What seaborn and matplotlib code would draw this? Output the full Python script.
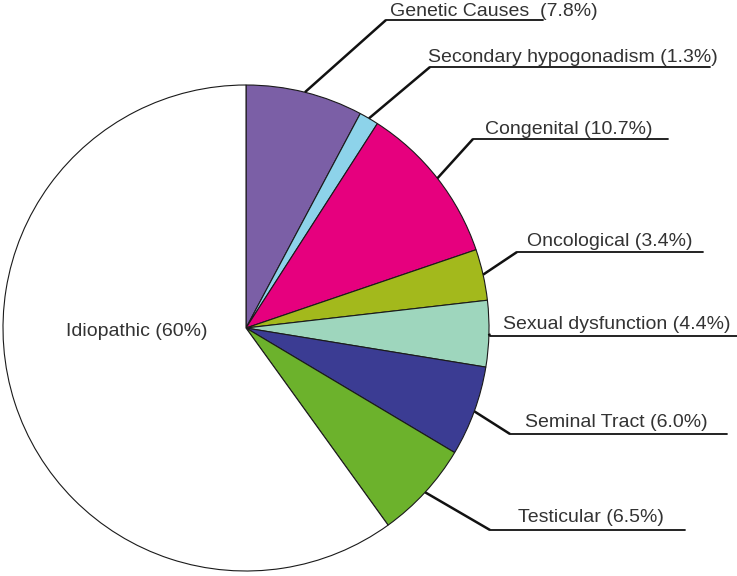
import matplotlib
matplotlib.use("Agg")
import matplotlib.pyplot as plt
import seaborn as sns
import numpy as np

# ---- data ----
categories = ["Genetic Causes ", "Secondary hypogonadism", "Congenital", "Oncological",
              "Sexual dysfunction", "Seminal Tract", "Testicular", "Idiopathic"]
values = [7.8, 1.3, 10.7, 3.4, 4.4, 6.0, 6.5, 60.0]
value_labels = ["7.8%", "1.3%", "10.7%", "3.4%", "4.4%", "6.0%", "6.5%", "60%"]
colors = ["#7b5fa6", "#8dd3ea", "#e6007e", "#a3b91c", "#9ed6bd", "#3b3c93", "#6cb22c", "#ffffff"]

sns.set_theme(style="white")
plt.rcParams['font.family'] = ['Liberation Sans', 'DejaVu Sans']

W, H = 737, 576
fig = plt.figure(figsize=(W / 100, H / 100), dpi=100)
ax = fig.add_axes([0, 0, 1, 1])

cx, cy, R = 246, H - 328, 243
wedges, _ = ax.pie(values, colors=colors, startangle=90, counterclock=False,
                   radius=R, center=(cx, cy),
                   wedgeprops=dict(edgecolor="#1a1a1a", linewidth=0.8))
ax.set_xlim(0, W)
ax.set_ylim(0, H)
ax.set_aspect('auto')
ax.axis('off')

txt_color = "#333333"
fs = 14

# label layout in image pixel coords: elbow_x, underline_y, underline_end_x, text_x, baseline_y
layout = [
    (386, 20, 543, 390, 16),
    (430, 67, 710, 428, 62),
    (473, 139, 668, 485, 134),
    (517, 252, 703, 527, 246),
    (490, 336, 737, 503, 329),
    (510, 434, 727, 525, 427),
    (490, 530, 685, 518, 522),
]

for i, (ex, uy, ux, tx, by) in enumerate(layout):
    w = wedges[i]
    mid = np.deg2rad((w.theta1 + w.theta2) / 2)
    sx = cx + R * np.cos(mid)
    sy = cy + R * np.sin(mid)
    ax.plot([sx, ex], [sy, H - uy], color="#111111", lw=1.8, solid_capstyle='butt')
    ax.plot([ex, ux], [H - uy, H - uy], color="#111111", lw=1.3)
    ax.text(tx, H - by, f"{categories[i]} ({value_labels[i]})", ha='left', va='baseline',
            fontsize=fs, color=txt_color)

ax.text(137, H - 332, f"{categories[7]} ({value_labels[7]})", ha='center', va='center',
        fontsize=fs, color=txt_color)

fig.savefig("out.png", dpi=100)
